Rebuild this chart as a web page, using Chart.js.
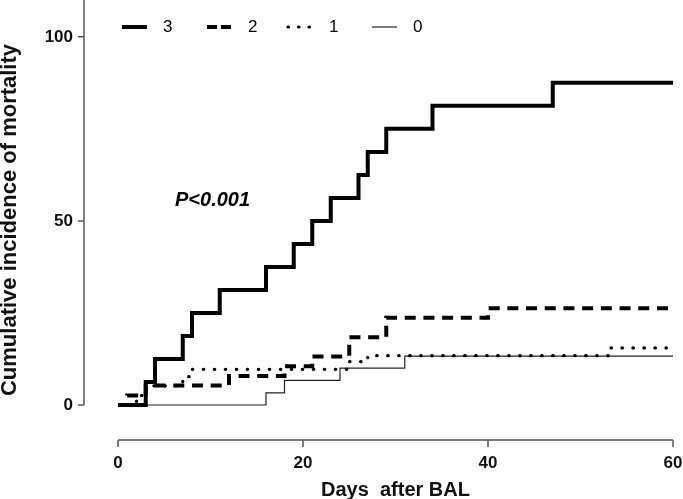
<!DOCTYPE html>
<html>
<head>
<meta charset="utf-8">
<script src="https://cdn.jsdelivr.net/npm/chart.js@4.4.0/dist/chart.umd.min.js"></script>
<style>
  html, body { margin: 0; padding: 0; background: #fff; }
</style>
</head>
<body>
<canvas id="chart" width="683" height="499"></canvas>
<script>
// group labels (legend)
const groupLabels = ['3', '2', '1', '0'];

// cumulative incidence of mortality (%) per group, as steps
const days3 = [0, 3, 4, 7, 8, 11, 16, 19, 21, 23, 26, 27, 29, 34, 47, 60];
const cum3  = [0, 6.25, 12.5, 18.75, 25, 31.25, 37.5, 43.75, 50, 56.25, 62.5, 68.75, 75, 81.25, 87.5, 87.5];

const days2 = [0, 1, 3, 12, 18, 21, 25, 29, 40, 60];
const cum2  = [0, 2.6, 5.3, 7.9, 10.5, 13.2, 18.4, 23.7, 26.3, 26.3];

const days1 = [0, 2, 3, 7, 8, 25, 27, 53, 60];
const cum1  = [0, 2.6, 5.2, 7.7, 9.7, 11.8, 13.4, 15.5, 15.5];

const days0 = [0, 16, 18, 24, 31, 60];
const cum0  = [0, 3.3, 6.7, 10, 13.3, 13.3];

const xTicks = [0, 20, 40, 60];
const yTicks = [0, 50, 100];

const FONT = '"Liberation Sans", Arial, sans-serif';

function toPoints(days, vals) {
    return days.map((d, i) => ({ x: d, y: vals[i] }));
}

// axis lines offset from the plot, legend and p value
const extras = {
    id: 'extras',
    afterDraw(chart) {
        const ctx = chart.ctx;
        const xs = chart.scales.x;
        const ys = chart.scales.y;
        ctx.save();
        ctx.strokeStyle = '#555';
        ctx.lineWidth = 1.5;
        ctx.beginPath();
        const yx = xs.left - 34;
        ctx.moveTo(yx, ys.top);
        ctx.lineTo(yx, ys.getPixelForValue(0));
        yTicks.forEach(v => {
            const p = ys.getPixelForValue(v);
            ctx.moveTo(yx - 6, p);
            ctx.lineTo(yx, p);
        });
        const xy = ys.bottom;
        ctx.moveTo(xs.getPixelForValue(xTicks[0]), xy);
        ctx.lineTo(xs.getPixelForValue(xTicks[xTicks.length - 1]), xy);
        xTicks.forEach(v => {
            const p = xs.getPixelForValue(v);
            ctx.moveTo(p, xy);
            ctx.lineTo(p, xy + 7);
        });
        ctx.stroke();

        // legend
        const starts = [122, 207, 288, 372];
        ctx.font = '17px ' + FONT;
        ctx.fillStyle = '#000';
        ctx.textBaseline = 'middle';
        chart.data.datasets.forEach((ds, i) => {
            const x = starts[i];
            ctx.beginPath();
            ctx.strokeStyle = ds.borderColor;
            ctx.lineWidth = ds.borderWidth;
            ctx.lineCap = ds.borderCapStyle || 'butt';
            ctx.setLineDash(ds.legendDash || []);
            ctx.moveTo(x, 27);
            ctx.lineTo(x + 25, 27);
            ctx.stroke();
            ctx.fillText(ds.label, x + 41, 27);
        });
        ctx.setLineDash([]);

        ctx.font = 'italic bold 20px ' + FONT;
        ctx.fillText('P<0.001', 175, 200);
        ctx.restore();
    }
};

new Chart(document.getElementById('chart'), {
    type: 'line',
    data: {
        datasets: [
            { label: groupLabels[0], data: toPoints(days3, cum3), borderColor: '#000', borderWidth: 4, legendDash: [] },
            { label: groupLabels[1], data: toPoints(days2, cum2), borderColor: '#000', borderWidth: 4, borderDash: [11, 7.7], legendDash: [10, 4] },
            { label: groupLabels[2], data: toPoints(days1, cum1), borderColor: '#000', borderWidth: 3.2, borderDash: [0.5, 10.5], borderCapStyle: 'round', legendDash: [0.5, 10] },
            { label: groupLabels[3], data: toPoints(days0, cum0), borderColor: '#222', borderWidth: 1.2, legendDash: [] }
        ]
    },
    options: {
        responsive: false,
        animation: false,
        layout: { padding: { left: 0, right: 10, top: 0, bottom: 0 } },
        elements: {
            line: { stepped: true, tension: 0, fill: false },
            point: { radius: 0, hoverRadius: 0 }
        },
        plugins: {
            legend: { display: false },
            tooltip: { enabled: false }
        },
        scales: {
            x: {
                type: 'linear',
                min: 0,
                max: 60,
                grid: { display: false, drawTicks: false },
                border: { display: false },
                afterBuildTicks: s => { s.ticks = xTicks.map(v => ({ value: v })); },
                afterFit: s => { s.height = 59; s.paddingLeft = 0; s.paddingRight = 0; },
                ticks: { padding: 13, color: '#111', font: { family: FONT, size: 17, weight: 'bold' } },
                title: { display: true, text: 'Days  after BAL', color: '#111', padding: { top: 0, bottom: -3 }, font: { family: FONT, size: 20, weight: 'bold' } }
            },
            y: {
                min: -9.5,
                max: 110,
                grid: { display: false, drawTicks: false },
                border: { display: false },
                afterBuildTicks: s => { s.ticks = yTicks.map(v => ({ value: v })); },
                afterFit: s => { s.width = 118; s.paddingTop = 0; s.paddingBottom = 0; },
                ticks: { padding: 45, color: '#111', font: { family: FONT, size: 17, weight: 'bold' } },
                title: { display: true, text: 'Cumulative incidence of mortality', color: '#111', padding: { top: -3, bottom: 0 }, font: { family: FONT, size: 22, weight: 'bold' } }
            }
        }
    },
    plugins: [extras]
});
</script>
</body>
</html>
